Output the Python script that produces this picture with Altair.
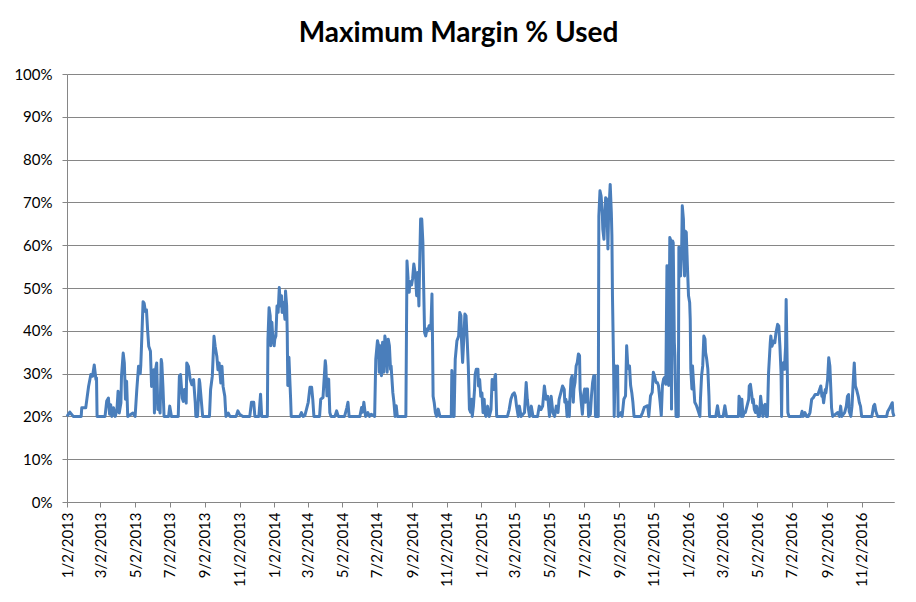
import altair as alt
import pandas as pd

# days since 1/2/2013 and the maximum margin % used on that day
day_offsets = [
    0, 5, 11, 25, 26, 33, 38, 42, 45, 48, 51, 52, 53, 67, 70, 73, 75, 77, 79, 82,
    85, 88, 90, 92, 95, 96, 99, 101, 103, 105, 107, 116, 120, 123, 126, 129, 130, 132, 134, 136,
    138, 140, 142, 144, 147, 149, 151, 153, 154, 156, 158, 160, 161, 164, 166, 167, 169, 171, 179, 181,
    184, 196, 198, 200, 203, 205, 207, 210, 211, 214, 217, 220, 223, 226, 227, 230, 233, 234, 237, 239,
    251, 253, 256, 259, 261, 264, 266, 268, 271, 273, 275, 278, 280, 284, 287, 298, 301, 304, 310, 322,
    325, 329, 331, 338, 341, 343, 353, 354, 356, 358, 359, 361, 362, 365, 366, 368, 370, 372, 374, 376,
    378, 379, 381, 384, 385, 387, 388, 389, 391, 393, 394, 395, 410, 413, 416, 419, 422, 425, 428, 431,
    433, 435, 445, 447, 451, 453, 455, 456, 458, 459, 461, 463, 465, 472, 475, 478, 489, 493, 495, 497,
    516, 519, 521, 523, 526, 530, 533, 536, 542, 544, 547, 549, 550, 552, 554, 556, 558, 560, 562, 564,
    566, 568, 570, 571, 574, 576, 578, 580, 582, 597, 599, 601, 603, 604, 607, 609, 611, 614, 616, 618,
    620, 621, 623, 625, 627, 628, 630, 632, 634, 636, 638, 641, 643, 644, 645, 647, 649, 651, 654, 657,
    677, 678, 680, 682, 684, 687, 688, 690, 692, 694, 695, 697, 699, 701, 703, 705, 707, 709, 711, 713,
    714, 716, 718, 719, 721, 724, 725, 727, 729, 731, 733, 735, 736, 738, 741, 744, 747, 749, 752, 754,
    755, 757, 776, 779, 782, 785, 788, 790, 792, 795, 797, 800, 806, 809, 811, 813, 815, 818, 821, 829,
    832, 835, 838, 841, 844, 847, 850, 853, 856, 859, 862, 865, 867, 870, 873, 876, 877, 879, 881, 883,
    885, 886, 888, 890, 892, 893, 895, 897, 899, 901, 903, 904, 906, 908, 910, 912, 913, 915, 917, 919,
    922, 924, 926, 928, 930, 931, 936, 937, 939, 941, 943, 944, 946, 947, 949, 951, 953, 954, 956, 957,
    959, 960, 961, 963, 964, 966, 968, 970, 971, 976, 978, 981, 984, 986, 988, 990, 991, 993, 995, 997,
    999, 1011, 1014, 1017, 1023, 1025, 1028, 1031, 1033, 1035, 1038, 1040, 1042, 1045, 1047, 1049, 1051, 1053, 1055, 1057,
    1058, 1060, 1062, 1064, 1065, 1067, 1068, 1070, 1071, 1073, 1077, 1078, 1080, 1081, 1083, 1084, 1086, 1088, 1089, 1091,
    1093, 1095, 1097, 1098, 1099, 1101, 1102, 1104, 1106, 1109, 1113, 1115, 1116, 1118, 1120, 1122, 1124, 1125, 1127, 1129,
    1131, 1132, 1143, 1146, 1149, 1156, 1159, 1162, 1168, 1183, 1184, 1186, 1188, 1189, 1191, 1193, 1195, 1198, 1201, 1202,
    1204, 1206, 1208, 1209, 1211, 1213, 1215, 1218, 1220, 1222, 1224, 1226, 1228, 1230, 1232, 1234, 1236, 1239, 1240, 1242,
    1245, 1247, 1249, 1252, 1254, 1256, 1258, 1259, 1260, 1262, 1264, 1266, 1267, 1269, 1270, 1272, 1293, 1295, 1297, 1300,
    1303, 1306, 1309, 1312, 1315, 1318, 1321, 1323, 1326, 1328, 1330, 1331, 1333, 1336, 1337, 1340, 1342, 1344, 1346, 1347,
    1349, 1358, 1361, 1363, 1365, 1370, 1373, 1375, 1377, 1378, 1381, 1383, 1386, 1387, 1389, 1391, 1394, 1396, 1398, 1400,
    1418, 1421, 1423, 1425, 1428, 1444, 1446, 1448, 1451, 1454, 1455, 1457,
]
margin_used = [
    20, 21, 20, 20, 22, 22, 27, 29.8, 29.4, 32, 28.6, 29, 20, 20, 23.6, 24.3, 20.5, 22.7, 20, 22,
    20, 21.6, 25.9, 20.8, 23.2, 29.4, 34.8, 32.5, 24, 28.2, 20, 20.8, 20, 26.3, 31.7, 30, 32, 39.1, 46.8, 46.4,
    44.5, 44.9, 40.2, 36.4, 35.2, 27, 27.4, 30.9, 20.8, 30.9, 32.5, 21.6, 23.1, 20.8, 33.3, 32.5, 27, 20, 20, 22.4,
    20, 20, 29.4, 29.8, 24.3, 23.5, 26.3, 23.1, 32.5, 31.7, 28.6, 27.4, 28.6, 23.1, 20, 20, 28.6, 27.8, 23.1, 20,
    20, 26.3, 29.4, 38.7, 36.4, 34, 30.9, 32.5, 27.8, 31.7, 27, 24.7, 20, 20.8, 20, 20, 21.3, 20.5, 20, 20,
    23.3, 23.3, 20, 20, 25.2, 20, 20, 38, 45.4, 43.5, 36.5, 42, 39.6, 36.5, 38, 38.8, 45.8, 44.3, 50.1, 45.8,
    48.2, 44.3, 46.7, 42.7, 49.3, 45.8, 39.6, 27.2, 33.8, 27.2, 24, 20, 20, 20.9, 20, 20.2, 21.7, 23.3, 26.8, 26.8,
    24, 20, 20, 24, 24.4, 28.7, 33, 31.8, 24.8, 28.3, 28.7, 20.9, 20, 20, 21.3, 20, 20, 22, 23.3, 20,
    20, 22.1, 21, 23.3, 20, 20.9, 20, 20.5, 20, 33.4, 37.7, 36.5, 30.3, 36.5, 29.5, 37.3, 30.3, 38.8, 37.3, 30.3,
    38, 36.5, 31, 31.8, 25.6, 23.3, 20, 22.5, 20, 20, 56.3, 52, 49, 51.5, 50.7, 52.3, 55.6, 52.9, 48.2, 53.6,
    45.8, 53.6, 66.1, 66.1, 60.6, 52.8, 39.6, 38.8, 40.4, 40, 41.2, 40.4, 48.6, 37.5, 24.7, 23.2, 20.9, 20, 21.7, 20,
    20, 30.7, 20, 20, 33.4, 37.7, 38, 38.8, 44.3, 43.5, 38, 32.6, 38, 43.9, 43.5, 38, 31.8, 21.7, 21, 24,
    20, 22.4, 26.3, 29.8, 31, 31, 27.1, 28.6, 24.7, 25.5, 20.9, 24, 20.9, 20, 22.4, 20, 21.6, 28.6, 26.3, 29.4,
    29.8, 20, 20, 21.6, 24, 25.1, 25.5, 24.7, 22.4, 20, 22.4, 20, 20.9, 27.9, 24, 21.6, 20, 22.4, 20, 20,
    22.4, 21.6, 22.4, 27.1, 24, 24.7, 20, 24.7, 20.9, 20, 22.4, 20.9, 24, 25.5, 27.1, 26.3, 23.3, 24, 20, 23.3,
    20, 24, 28.7, 29.5, 23.3, 26.4, 27.9, 31.8, 32.6, 34.6, 34.2, 26.4, 23.3, 20.5, 24.8, 26.4, 23.3, 26.4, 26.4, 20,
    20.5, 24.8, 27.9, 29.5, 29.5, 20, 20, 66.8, 72.7, 71.5, 67.6, 63.7, 61.4, 65.3, 71.1, 70.7, 59.1, 66.1, 71.5, 74.2,
    67.6, 62.2, 48.2, 31.8, 20, 31.8, 27.9, 31.8, 20, 20.9, 20, 24, 24.8, 36.5, 31.8, 31.1, 31.8, 27.2, 25.6, 23.3,
    20, 20, 20.9, 22.1, 22.5, 20, 24.8, 25.6, 30.3, 29.5, 27.9, 27.9, 27.2, 23.3, 20.2, 27.2, 28.7, 29.1, 27.5, 55.2,
    51.3, 27.2, 61.8, 61, 21.7, 61, 60.6, 37.3, 34.2, 20, 20, 59.5, 58.7, 52.8, 59.8, 69.2, 66.1, 52.8, 63.3, 63,
    55.2, 48.2, 46.6, 42.7, 31.1, 26.4, 31.8, 27.5, 23.3, 22.5, 20.9, 20, 24, 29.5, 31.8, 38.8, 38.1, 35, 33.4, 31.1,
    24.8, 20, 20, 22.5, 20, 20, 22.5, 20, 20, 20, 24.7, 24, 20, 24, 20, 20.9, 20.9, 22.4, 24, 27.1,
    27.5, 25.5, 23.2, 24, 21.6, 20.9, 22.4, 20, 20, 24.7, 22.4, 20, 22.4, 22.8, 20, 20, 30.2, 37.2, 38.8, 36.4,
    37.6, 37.2, 39.5, 41.5, 41.1, 36.4, 30.2, 20, 31.8, 32.5, 31, 36.4, 47.3, 31, 20.9, 20, 20, 21.2, 20, 20.9,
    20, 20, 20.9, 24, 24.4, 25.1, 25.1, 25.1, 26.3, 27.1, 24.7, 25.5, 23.2, 26.3, 25.5, 28.6, 33.7, 31.8, 25.5, 22,
    20, 20.9, 20, 22.4, 20, 20.9, 22.4, 24.7, 25.1, 21.2, 20, 22.4, 30.2, 32.5, 27.1, 26.3, 24.7, 23.2, 22.4, 20,
    20, 22.4, 22.8, 21.2, 20, 20, 21.2, 21.6, 22.4, 23.2, 20.9, 20,
]

start = pd.Timestamp("2013-01-02")
df = pd.DataFrame({
    "date": start + pd.to_timedelta(day_offsets, unit="D"),
    "margin": [v / 100 for v in margin_used],
})

tick_dates = [alt.DateTime(year=y, month=m, date=2)
              for y in range(2013, 2017) for m in (1, 3, 5, 7, 9, 11)]
pct_ticks = [i / 10 for i in range(11)]

line = alt.Chart(df).mark_line(color="#4A7EBB", strokeWidth=3, strokeJoin="round").encode(
    x=alt.X("date:T", title=None,
            scale=alt.Scale(domain=[alt.DateTime(year=2013, month=1, date=2),
                                    alt.DateTime(year=2016, month=12, date=29)]),
            axis=alt.Axis(values=tick_dates, format="%-m/%-d/%Y", labelAngle=270,
                          labelAlign="right", labelBaseline="middle", labelPadding=5,
                          grid=False, tickSize=5, labelOverlap=False)),
    y=alt.Y("margin:Q", title=None,
            scale=alt.Scale(domain=[0, 1], nice=False),
            axis=alt.Axis(values=pct_ticks, format=".0%", tickSize=5, labelPadding=10,
                          grid=True, gridColor="#868686", gridWidth=1)),
).properties(
    width=827,
    height=428,
    title=alt.TitleParams("Maximum Margin % Used", font="Lato", fontSize=28, fontWeight="bold",
                          color="black", anchor="middle", dx=-22, offset=19),
    autosize=alt.AutoSizeParams(type="none"),
    padding={"left": 59, "top": 66, "right": 14, "bottom": 85},
).configure_axis(
    labelFont="Lato", labelFontSize=15, labelColor="black",
    domainColor="#868686", tickColor="#868686",
).configure_view(stroke=None)

line.save("out.html", embed_options={"renderer": "svg", "actions": False})
